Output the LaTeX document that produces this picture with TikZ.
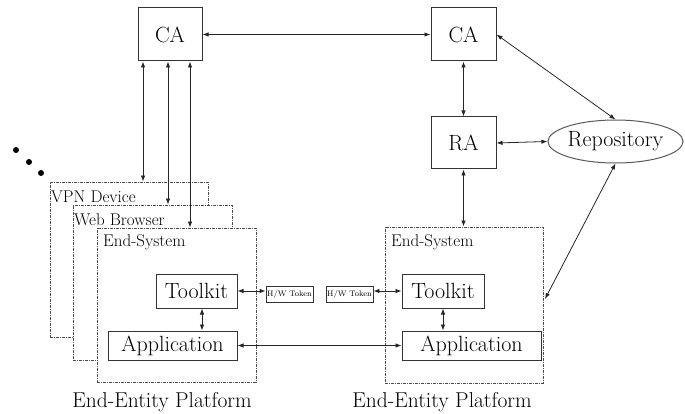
\documentclass[tikz,border=0pt]{standalone}
\usepackage{fontspec}
\usetikzlibrary{arrows.meta,shapes.geometric}

\tikzset{
  box/.style={draw=black!80, line width=1pt, fill=white, inner sep=0pt, text=black},
  platform/.style={draw=black!70, line width=0.9pt, fill=white, inner sep=0pt,
    dash pattern=on 3pt off 1pt on 1pt off 1pt},
  bigtxt/.style={font=\fontsize{22}{25}\selectfont},
  captxt/.style={font=\fontsize{21.5}{24}\selectfont},
  midtxt/.style={font=\fontsize{17}{19}\selectfont},
  tinytxt/.style={font=\fontsize{8}{9}\selectfont},
  link/.style={line width=0.8pt, black!85, {Latex[length=6pt,width=4.5pt]}-{Latex[length=6pt,width=4.5pt]}},
}

\begin{document}
\begin{tikzpicture}[x=1pt,y=-1pt]
\useasboundingbox (0,0) rectangle (685,414);

% certification authorities and registration authority
\node[box, bigtxt, minimum width=64pt, minimum height=53pt] (caL) at (170,34.5) {CA};
\node[box, bigtxt, minimum width=65pt, minimum height=53pt] (caR) at (463.5,34.5) {CA};
\node[box, bigtxt, minimum width=65pt, minimum height=52pt] (ra) at (463.5,143) {RA};
\node[ellipse, draw=black!65, line width=1pt, bigtxt, inner sep=0pt,
      minimum width=123pt, minimum height=43pt] (repo) at (615.5,141.5) {Repository};

% stacked end-entity platforms on the left
\node[platform, minimum width=158pt, minimum height=155pt] (vpn) at (129,259.5) {};
\node[platform, minimum width=159pt, minimum height=155pt] (web) at (152.5,282.5) {};
\node[platform, minimum width=159pt, minimum height=154pt] (esL) at (176.5,305) {};
\node[anchor=west, midtxt, inner sep=0pt] (vpnlbl) at (51,197) {VPN Device};
\node[anchor=west, midtxt, inner sep=0pt] (weblbl) at (74,220) {Web Browser};
\node[anchor=west, midtxt, inner sep=0pt] (esLlbl) at (103,242) {End-System};

% end-entity platform on the right
\node[platform, minimum width=158pt, minimum height=156pt] (esR) at (464,305) {};
\node[anchor=west, midtxt, inner sep=0pt] (esRlbl) at (391,242) {End-System};

% toolkits, applications and hardware tokens
\node[box, bigtxt, minimum width=81pt, minimum height=34pt] (tkL) at (196.5,291) {Toolkit};
\node[box, bigtxt, minimum width=129pt, minimum height=29pt] (apL) at (172.5,345.5) {Application};
\node[box, bigtxt, minimum width=82pt, minimum height=34pt] (tkR) at (443,291) {Toolkit};
\node[box, bigtxt, minimum width=139pt, minimum height=29pt] (apR) at (471.5,345.5) {Application};
\node[box, tinytxt, line width=0.8pt, minimum width=47pt, minimum height=16pt] (hw1) at (289.5,294) {H/W Token};
\node[box, tinytxt, line width=0.8pt, minimum width=47pt, minimum height=16pt] (hw2) at (349.5,294) {H/W Token};

% platform captions
\node[captxt, inner sep=0pt] (capL) at (162,402) {End-Entity Platform};
\node[captxt, inner sep=0pt] (capR) at (442,402) {End-Entity Platform};

% ellipsis dots for further platforms
\fill (16,150) circle (3pt);
\fill (29,162) circle (3pt);
\fill (41,173) circle (3pt);

% column positions of the links from the left CA
\coordinate (c1) at (143,0);
\coordinate (c2) at (168,0);
\coordinate (c3) at (190,0);
\coordinate (c4) at (202,0);
\coordinate (tky) at (0,291);
\coordinate (esRin) at (545,299);

% connectors
\draw[link] (caL.east) -- (caR.west);
\draw[link] (caL.south -| c1) -- (vpn.north -| c1);
\draw[link] (caL.south -| c2) -- (web.north -| c2);
\draw[link] (caL.south -| c3) -- (esL.north -| c3);
\draw[link] (caR.south) -- (ra.north);
\draw[link] (ra.south) -- (esR.north -| ra.south);
\draw[link] (ra.east) -- (repo.west);
\draw[link] (caR.east) -- (repo.north);
\draw[link] (repo.south) -- (esRin);
\draw[link] (tkL.east) -- (hw1.west |- tky);
\draw[link] (hw2.east |- tky) -- (tkR.west);
\draw[link] (tkL.south -| c4) -- (apL.north -| c4);
\draw[link] (tkR.south) -- (apR.north -| tkR.south);
\draw[link] (apL.east) -- (apR.west);
\end{tikzpicture}
\end{document}
